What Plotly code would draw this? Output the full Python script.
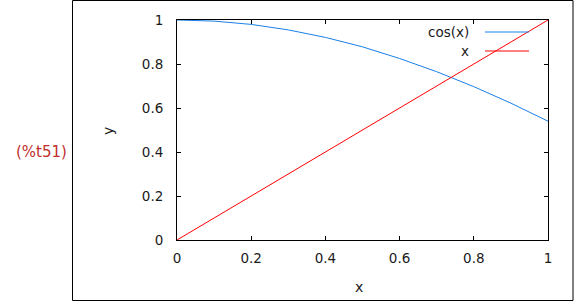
import plotly.graph_objects as go

# data
x_vals = [0.0, 0.1, 0.2, 0.3, 0.4, 0.5, 0.6, 0.7, 0.8, 0.9, 1.0]
cos_vals = [1.0, 0.995, 0.980, 0.955, 0.921, 0.878, 0.825, 0.765, 0.697, 0.622, 0.540]
lin_vals = [0.0, 0.1, 0.2, 0.3, 0.4, 0.5, 0.6, 0.7, 0.8, 0.9, 1.0]
tick_vals = [0, 0.2, 0.4, 0.6, 0.8, 1]
tick_text = ["0", "0.2", "0.4", "0.6", "0.8", "1"]
series_names = ["cos(x)", "x"]
series_colors = ["#1a80e6", "#ff0000"]

W, H = 574, 302
L, R, T, B = 177, 548, 20, 240
PW, PH = R - L, B - T


def px(x):
    return (x - L) / PW


def py(y):
    return (B - y) / PH


FONT = "DejaVu Sans"
TXT = "#1a1a1a"

fig = go.Figure()
fig.add_trace(go.Scatter(x=x_vals, y=cos_vals, mode="lines", name=series_names[0],
                         line=dict(color=series_colors[0], width=1), showlegend=False))
fig.add_trace(go.Scatter(x=x_vals, y=lin_vals, mode="lines", name=series_names[1],
                         line=dict(color=series_colors[1], width=1), showlegend=False))

axis_common = dict(
    range=[0, 1], tickvals=tick_vals, ticktext=tick_text,
    ticks="inside", ticklen=4, tickwidth=1, tickcolor="black",
    showline=True, linecolor="black", linewidth=1, mirror="ticks",
    showgrid=False, zeroline=False,
    tickfont=dict(family=FONT, size=13.5, color=TXT),
)

fig.update_layout(
    width=W, height=H,
    margin=dict(l=L, r=W - R, t=T, b=H - B),
    paper_bgcolor="white", plot_bgcolor="white",
    xaxis=dict(**axis_common, ticklabelstandoff=6),
    yaxis=dict(**axis_common, ticklabelstandoff=10),
    showlegend=False,
)

annotations = [
    dict(text="x", x=px(359), y=py(287), xref="paper", yref="paper", showarrow=False,
         font=dict(family=FONT, size=14, color=TXT), xanchor="center", yanchor="middle"),
    dict(text="y", x=px(108), y=py(131), xref="paper", yref="paper", showarrow=False, textangle=-90,
         font=dict(family=FONT, size=14, color=TXT), xanchor="center", yanchor="middle"),
    dict(text="(%t51)", x=px(41), y=py(152), xref="paper", yref="paper", showarrow=False,
         font=dict(family=FONT, size=15, color="#c0302c"), xanchor="center", yanchor="middle"),
]
shapes = [
    dict(type="rect", xref="paper", yref="paper", x0=px(72.5), x1=px(573), y0=py(0.5), y1=py(300.5),
         line=dict(color="black", width=1), layer="below"),
]
leg_y = [32, 51]
for name, color, yy in zip(series_names, series_colors, leg_y):
    annotations.append(dict(text=name, x=px(471), y=py(yy), xref="paper", yref="paper", showarrow=False,
                            font=dict(family=FONT, size=13.5, color=TXT),
                            xanchor="right", yanchor="middle"))
    shapes.append(dict(type="line", xref="paper", yref="paper", x0=px(485), x1=px(529),
                       y0=py(yy), y1=py(yy), line=dict(color=color, width=1)))

fig.update_layout(annotations=annotations, shapes=shapes)
fig.write_html("out.html", config={"displayModeBar": False})
